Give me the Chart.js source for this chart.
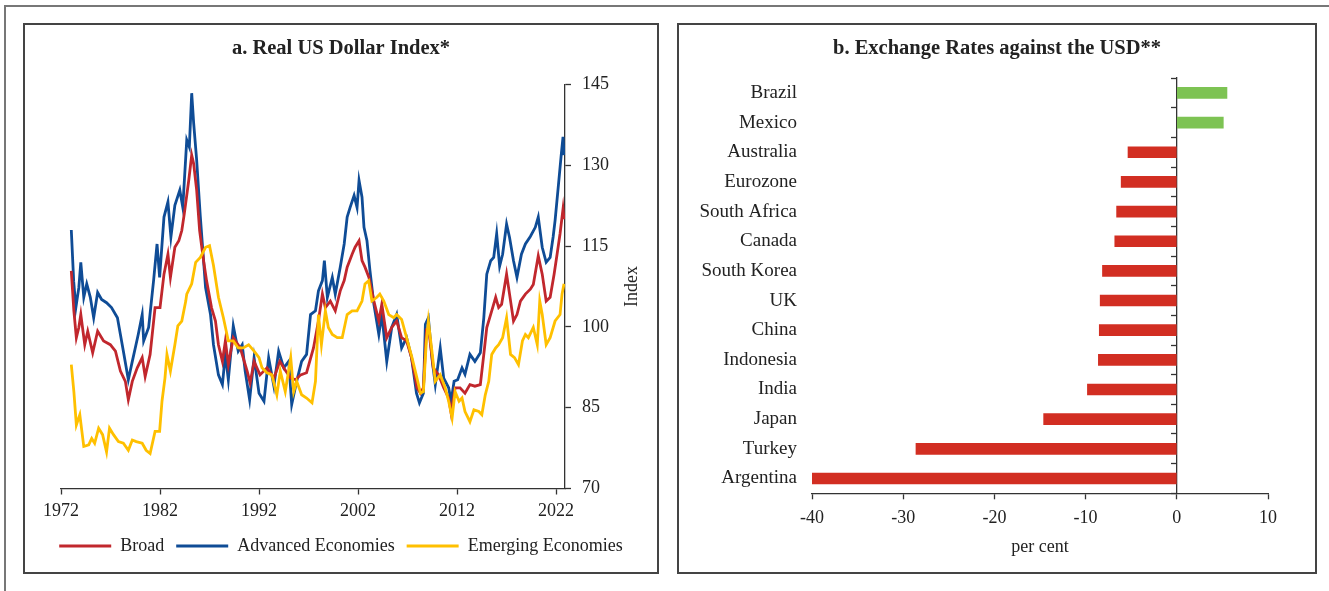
<!DOCTYPE html>
<html>
<head>
<meta charset="utf-8">
<script src="https://cdn.jsdelivr.net/npm/chart.js@4.4.1/dist/chart.umd.min.js"></script>
<style>
  html, body { margin: 0; padding: 0; background: #fff; }
  body { width: 1329px; height: 591px; position: relative; overflow: hidden; }
  .frame { position: absolute; left: 4px; top: 5px; width: 1340px; height: 600px; border-left: 2px solid #777; border-top: 2px solid #777; }
  .panel { position: absolute; top: 23px; height: 547px; border: 2px solid #444; }
  #panelA { left: 23px; width: 632px; }
  #panelB { left: 677px; width: 636px; }
  canvas { position: absolute; left: 0; top: 0; }
</style>
</head>
<body>
<div class="frame"></div>
<div class="panel" id="panelA"><canvas id="chartA" width="632" height="547"></canvas></div>
<div class="panel" id="panelB"><canvas id="chartB" width="636" height="547"></canvas></div>
<script>
// panel a: real US dollar index (decimal years)
const broadYears = [1973.04, 1973.3, 1973.55, 1973.8, 1974.0, 1974.4, 1974.7, 1975.2, 1975.7, 1976.3, 1976.98, 1977.5, 1978.0, 1978.5, 1978.8, 1979.2, 1979.7, 1980.2, 1980.5, 1981.0, 1981.5, 1982.0, 1982.4, 1982.8, 1983.05, 1983.5, 1983.9, 1984.2, 1984.45, 1984.9, 1985.2, 1985.4, 1985.7, 1986.0, 1986.4, 1986.7, 1987.2, 1987.6, 1987.9, 1988.3, 1988.6, 1988.9, 1989.4, 1990.1, 1990.8, 1991.1, 1991.5, 1992.1, 1992.8, 1993.5, 1994.1, 1994.7, 1995.2, 1995.7, 1996.2, 1996.8, 1997.5, 1998.0, 1998.4, 1998.7, 1999.2, 1999.7, 2000.2, 2000.6, 2000.9, 2001.4, 2001.7, 2002.1, 2002.4, 2002.7, 2003.1, 2003.6, 2004.1, 2004.4, 2004.9, 2005.4, 2005.9, 2006.4, 2006.9, 2007.4, 2007.95, 2008.3, 2008.6, 2008.9, 2009.2, 2009.6, 2010.1, 2010.65, 2011.15, 2011.4, 2011.8, 2012.3, 2012.8, 2013.3, 2013.8, 2014.35, 2014.7, 2015.0, 2015.5, 2015.9, 2016.2, 2016.5, 2017.0, 2017.3, 2017.7, 2018.05, 2018.4, 2018.9, 2019.4, 2019.7, 2020.2, 2020.6, 2021.0, 2021.4, 2021.8, 2022.1, 2022.4, 2022.7, 2022.8];
const broadValues = [110.4, 103.0, 98.0, 99.9, 102.3, 96.7, 99.2, 95.2, 99.2, 97.4, 96.7, 95.5, 91.8, 89.9, 86.5, 89.9, 92.4, 94.3, 90.8, 94.9, 103.6, 103.6, 109.8, 113.5, 109.2, 114.8, 116.0, 117.9, 121.0, 127.2, 131.9, 130.3, 125.4, 117.9, 112.3, 108.6, 103.6, 101.1, 96.7, 93.6, 97.4, 93.0, 98.0, 96.1, 91.8, 89.6, 93.6, 91.1, 92.4, 90.5, 93.6, 91.8, 90.5, 90.2, 91.1, 91.5, 96.1, 101.1, 106.1, 103.6, 104.8, 103.0, 106.7, 108.6, 111.1, 113.5, 114.8, 116.0, 112.3, 111.1, 109.2, 104.8, 101.1, 104.2, 98.0, 99.9, 101.1, 98.0, 97.4, 94.3, 88.7, 87.7, 88.7, 99.2, 98.6, 92.4, 91.2, 88.7, 86.8, 84.0, 88.7, 88.7, 87.7, 89.3, 89.0, 89.3, 94.9, 99.9, 103.0, 105.5, 103.6, 104.2, 109.8, 106.1, 101.1, 102.3, 104.8, 106.1, 107.0, 107.9, 113.2, 109.8, 104.8, 105.5, 109.8, 113.5, 117.3, 121.9, 120.0];

const advancedYears = [1973.04, 1973.28, 1973.5, 1973.8, 1974.0, 1974.3, 1974.6, 1974.96, 1975.3, 1975.7, 1976.1, 1976.6, 1977.1, 1977.7, 1978.0, 1978.3, 1978.8, 1979.2, 1979.5, 1979.8, 1980.2, 1980.35, 1980.85, 1981.35, 1981.7, 1981.96, 1982.4, 1982.8, 1983.1, 1983.5, 1984.0, 1984.3, 1984.7, 1984.96, 1985.2, 1985.4, 1985.7, 1986.07, 1986.6, 1987.1, 1987.4, 1987.9, 1988.3, 1988.6, 1988.9, 1989.4, 1989.9, 1990.3, 1990.6, 1991.05, 1991.5, 1992.0, 1992.5, 1992.97, 1993.5, 1993.98, 1994.5, 1995.0, 1995.3, 1995.8, 1996.3, 1996.8, 1997.2, 1997.7, 1998.0, 1998.4, 1998.6, 1998.9, 1999.4, 1999.7, 2000.2, 2000.6, 2000.9, 2001.2, 2001.6, 2001.9, 2002.1, 2002.4, 2002.6, 2002.9, 2003.2, 2003.6, 2004.1, 2004.4, 2004.9, 2005.4, 2005.9, 2006.4, 2006.9, 2007.4, 2007.9, 2008.2, 2008.6, 2008.8, 2009.1, 2009.5, 2009.8, 2010.3, 2010.65, 2011.15, 2011.4, 2011.7, 2012.06, 2012.5, 2012.8, 2013.3, 2013.8, 2014.35, 2014.7, 2015.0, 2015.4, 2015.7, 2016.0, 2016.3, 2016.6, 2017.0, 2017.3, 2017.7, 2018.05, 2018.5, 2018.9, 2019.4, 2019.9, 2020.2, 2020.6, 2021.0, 2021.4, 2021.7, 2021.9, 2022.25, 2022.5, 2022.7, 2022.8];
const advancedValues = [118.0, 108.5, 103.6, 107.3, 112.0, 105.5, 108.0, 105.5, 101.7, 106.4, 105.1, 104.5, 103.6, 101.7, 98.6, 95.5, 90.2, 93.6, 96.1, 98.6, 102.3, 97.4, 99.9, 108.6, 115.4, 109.2, 120.4, 123.2, 116.7, 122.6, 125.4, 122.2, 134.7, 133.4, 143.4, 137.8, 131.0, 120.5, 107.3, 102.3, 96.7, 91.1, 89.3, 94.9, 90.2, 100.2, 95.5, 96.7, 91.8, 86.5, 94.3, 87.7, 86.2, 94.3, 89.0, 95.5, 92.4, 93.6, 85.6, 89.9, 93.6, 94.9, 102.3, 103.0, 106.7, 108.6, 112.3, 105.5, 109.2, 106.1, 111.1, 115.4, 120.4, 122.2, 124.4, 122.2, 127.2, 124.1, 118.5, 116.0, 110.5, 104.2, 98.6, 102.3, 93.6, 99.9, 102.3, 96.1, 98.0, 94.3, 87.7, 85.9, 87.7, 100.5, 101.7, 93.6, 89.3, 96.1, 90.5, 88.7, 86.2, 89.9, 90.2, 92.4, 91.2, 94.9, 93.6, 95.2, 101.7, 109.8, 112.3, 112.9, 117.3, 111.3, 113.5, 119.1, 116.6, 112.3, 109.2, 113.5, 115.4, 116.8, 118.5, 120.4, 114.8, 112.0, 112.9, 116.7, 119.8, 126.6, 131.6, 135.3, 131.9];

const emergingYears = [1973.04, 1973.3, 1973.55, 1973.9, 1974.3, 1974.8, 1975.1, 1975.4, 1975.8, 1976.2, 1976.6, 1976.9, 1977.3, 1977.8, 1978.3, 1978.8, 1979.2, 1979.6, 1980.2, 1980.6, 1981.0, 1981.5, 1981.96, 1982.2, 1982.5, 1982.7, 1983.05, 1983.5, 1983.8, 1984.2, 1984.6, 1984.7, 1985.2, 1985.6, 1986.07, 1986.6, 1987.0, 1987.4, 1987.9, 1988.4, 1988.9, 1989.4, 1989.9, 1990.4, 1990.95, 1991.5, 1992.0, 1992.3, 1992.8, 1993.3, 1993.8, 1994.15, 1994.65, 1995.2, 1995.5, 1995.8, 1996.3, 1996.8, 1997.35, 1997.7, 1998.0, 1998.3, 1998.7, 1999.0, 1999.4, 1999.9, 2000.4, 2000.9, 2001.4, 2001.9, 2002.4, 2002.7, 2003.07, 2003.4, 2003.9, 2004.2, 2004.6, 2005.1, 2005.6, 2005.9, 2006.4, 2006.9, 2007.45, 2007.95, 2008.3, 2008.6, 2008.9, 2009.1, 2009.5, 2009.8, 2010.3, 2010.8, 2011.15, 2011.5, 2011.8, 2012.2, 2012.5, 2012.8, 2013.3, 2013.7, 2014.2, 2014.5, 2014.85, 2015.2, 2015.5, 2015.9, 2016.2, 2016.6, 2017.0, 2017.4, 2017.8, 2018.2, 2018.6, 2018.9, 2019.2, 2019.7, 2020.1, 2020.35, 2020.6, 2021.0, 2021.4, 2021.9, 2022.4, 2022.6, 2022.8];
const emergingValues = [93.0, 88.0, 81.8, 83.7, 77.8, 78.1, 79.3, 78.4, 81.2, 80.0, 76.8, 81.2, 80.0, 78.7, 78.4, 77.1, 79.0, 78.7, 78.4, 77.1, 76.5, 80.6, 80.6, 86.2, 90.5, 94.9, 91.8, 96.7, 100.2, 101.1, 104.8, 106.1, 108.0, 112.0, 112.9, 114.8, 115.1, 111.4, 105.5, 101.7, 97.4, 97.4, 96.1, 96.1, 96.7, 95.5, 94.3, 92.4, 91.5, 91.1, 87.4, 91.8, 88.0, 94.3, 88.0, 89.9, 87.4, 86.8, 85.9, 89.9, 102.3, 96.7, 103.0, 99.9, 98.6, 98.0, 98.0, 102.3, 103.0, 103.0, 104.8, 108.0, 108.6, 104.8, 105.5, 106.1, 104.8, 102.3, 101.7, 102.3, 101.4, 98.0, 94.3, 90.5, 87.7, 88.0, 97.4, 101.1, 94.9, 89.9, 91.1, 88.7, 86.2, 83.1, 88.0, 86.2, 86.8, 84.3, 82.4, 84.6, 84.3, 83.7, 87.4, 89.9, 94.9, 96.1, 96.7, 98.0, 101.7, 94.9, 94.3, 93.0, 97.4, 98.6, 98.0, 99.9, 96.7, 104.8, 102.3, 96.7, 98.0, 101.1, 102.3, 106.1, 108.0];

const yearTicks = [1972, 1982, 1992, 2002, 2012, 2022];
const indexTicks = [70, 85, 100, 115, 130, 145];

// panel b: change against the USD, per cent
const countries = ["Brazil", "Mexico", "Australia", "Eurozone", "South Africa", "Canada", "South Korea", "UK", "China", "Indonesia", "India", "Japan", "Turkey", "Argentina"];
const changes = [5.5, 5.1, -5.35, -6.1, -6.6, -6.8, -8.15, -8.4, -8.5, -8.6, -9.8, -14.6, -28.6, -40.0];
const changeTicks = [-40, -30, -20, -10, 0, 10];

const RED = "#C1272D";
const BLUE = "#0F4C96";
const YELLOW = "#FFC000";
const BAR_RED = "#D22E22";
const BAR_GREEN = "#7DC353";
const AXIS = "#333";
const TEXT = "#222";
const SERIF = "'Liberation Serif', 'Times New Roman', serif";

const toPoints = (xs, ys) => xs.map((x, i) => ({ x, y: ys[i] }));
const fixTicks = list => scale => { scale.ticks = list.map(value => ({ value })); };
// empty axis that only reserves room, so title and legend stay centred on the panel
const spacer = (position, width) => ({
  type: "linear", position, display: true,
  grid: { display: false, drawTicks: false }, border: { display: false }, ticks: { display: false },
  afterFit: s => { s.width = width; },
});

// "Index" axis title, read bottom to top like the original
const indexTitle = {
  id: "indexTitle",
  afterDraw(chart) {
    const { ctx, chartArea } = chart;
    ctx.save();
    ctx.translate(chartArea.right + 67, (chartArea.top + chartArea.bottom) / 2);
    ctx.rotate(-Math.PI / 2);
    ctx.font = "18px " + SERIF;
    ctx.fillStyle = TEXT;
    ctx.textAlign = "center";
    ctx.textBaseline = "middle";
    ctx.fillText("Index", 0, 0);
    ctx.restore();
  },
};

new Chart(document.getElementById("chartA"), {
  type: "line",
  data: {
    datasets: [
      { label: "Broad", data: toPoints(broadYears, broadValues), borderColor: RED, backgroundColor: RED, order: 1 },
      { label: "Advanced Economies", data: toPoints(advancedYears, advancedValues), borderColor: BLUE, backgroundColor: BLUE, order: 2 },
      { label: "Emerging Economies", data: toPoints(emergingYears, emergingValues), borderColor: YELLOW, backgroundColor: YELLOW, order: 0 },
    ],
  },
  options: {
    responsive: false,
    animation: false,
    elements: { point: { radius: 0 }, line: { borderWidth: 2.8, tension: 0 } },
    layout: { padding: { left: 0, right: 0, top: 0, bottom: 7 } },
    scales: {
      x: {
        type: "linear", min: 1972, max: 2022.9,
        afterBuildTicks: fixTicks(yearTicks),
        afterFit: s => { s.height = 36.5; },
        grid: { drawOnChartArea: false, tickLength: 6, tickColor: AXIS, tickWidth: 1.3 },
        border: { color: AXIS, width: 1.3 },
        ticks: { color: TEXT, font: { family: SERIF, size: 18 }, padding: 6, maxRotation: 0, callback: v => String(v) },
      },
      y: {
        position: "right", min: 70, max: 145,
        afterBuildTicks: fixTicks(indexTicks),
        afterFit: s => { s.width = 92; },
        grid: { drawOnChartArea: false, tickLength: 6, tickColor: AXIS, tickWidth: 1.3 },
        border: { color: AXIS, width: 1.3 },
        ticks: { color: TEXT, font: { family: SERIF, size: 18 }, padding: 11, callback: v => String(v) },
      },
      yLeft: spacer("left", 36),
    },
    plugins: {
      tooltip: { enabled: false },
      title: { display: true, text: "a. Real US Dollar Index*", color: TEXT, font: { family: SERIF, size: 20.5, weight: "bold" }, padding: { top: 11, bottom: 24 } },
      legend: {
        position: "bottom",
        labels: {
          color: TEXT, font: { family: SERIF, size: 18 }, boxWidth: 52, boxHeight: 3, padding: 12,
          sort: (a, b) => a.datasetIndex - b.datasetIndex,
          generateLabels: chart => Chart.defaults.plugins.legend.labels.generateLabels(chart).map(l => ({ ...l, lineWidth: 0 })),
        },
      },
    },
  },
  plugins: [indexTitle],
});

new Chart(document.getElementById("chartB"), {
  type: "bar",
  data: {
    labels: countries,
    datasets: [{ data: changes, backgroundColor: changes.map(v => (v >= 0 ? BAR_GREEN : BAR_RED)), barThickness: 11 }],
  },
  options: {
    indexAxis: "y",
    responsive: false,
    animation: false,
    layout: { padding: { left: 0, right: 0, top: 0, bottom: 13.5 } },
    scales: {
      x: {
        min: -40, max: 10,
        afterBuildTicks: fixTicks(changeTicks),
        grid: { drawOnChartArea: false, tickLength: 6, tickColor: AXIS, tickWidth: 1.3 },
        border: { color: AXIS, width: 1.3 },
        ticks: { color: TEXT, font: { family: SERIF, size: 18 }, padding: 8, callback: v => String(v) },
        title: { display: true, text: "per cent", color: TEXT, font: { family: SERIF, size: 18 }, padding: { top: 0, bottom: 0 } },
      },
      y: {
        afterFit: s => { s.width = 133; },
        grid: { display: false, drawTicks: false },
        border: { display: false },
        ticks: { color: TEXT, font: { family: SERIF, size: 19 }, padding: 15 },
      },
      yZero: {
        type: "category", axis: "y", labels: countries, position: { x: 0 }, offset: true,
        grid: { offset: true, drawOnChartArea: false, tickLength: 5, tickColor: AXIS, tickWidth: 1.3 },
        border: { color: AXIS, width: 1.3 },
        ticks: { display: false },
      },
      yRight: spacer("right", 47),
    },
    plugins: {
      tooltip: { enabled: false },
      legend: { display: false },
      title: { display: true, text: "b. Exchange Rates against the USD**", color: TEXT, font: { family: SERIF, size: 20.5, weight: "bold" }, padding: { top: 11, bottom: 17.5 } },
    },
  },
});
</script>
</body>
</html>
